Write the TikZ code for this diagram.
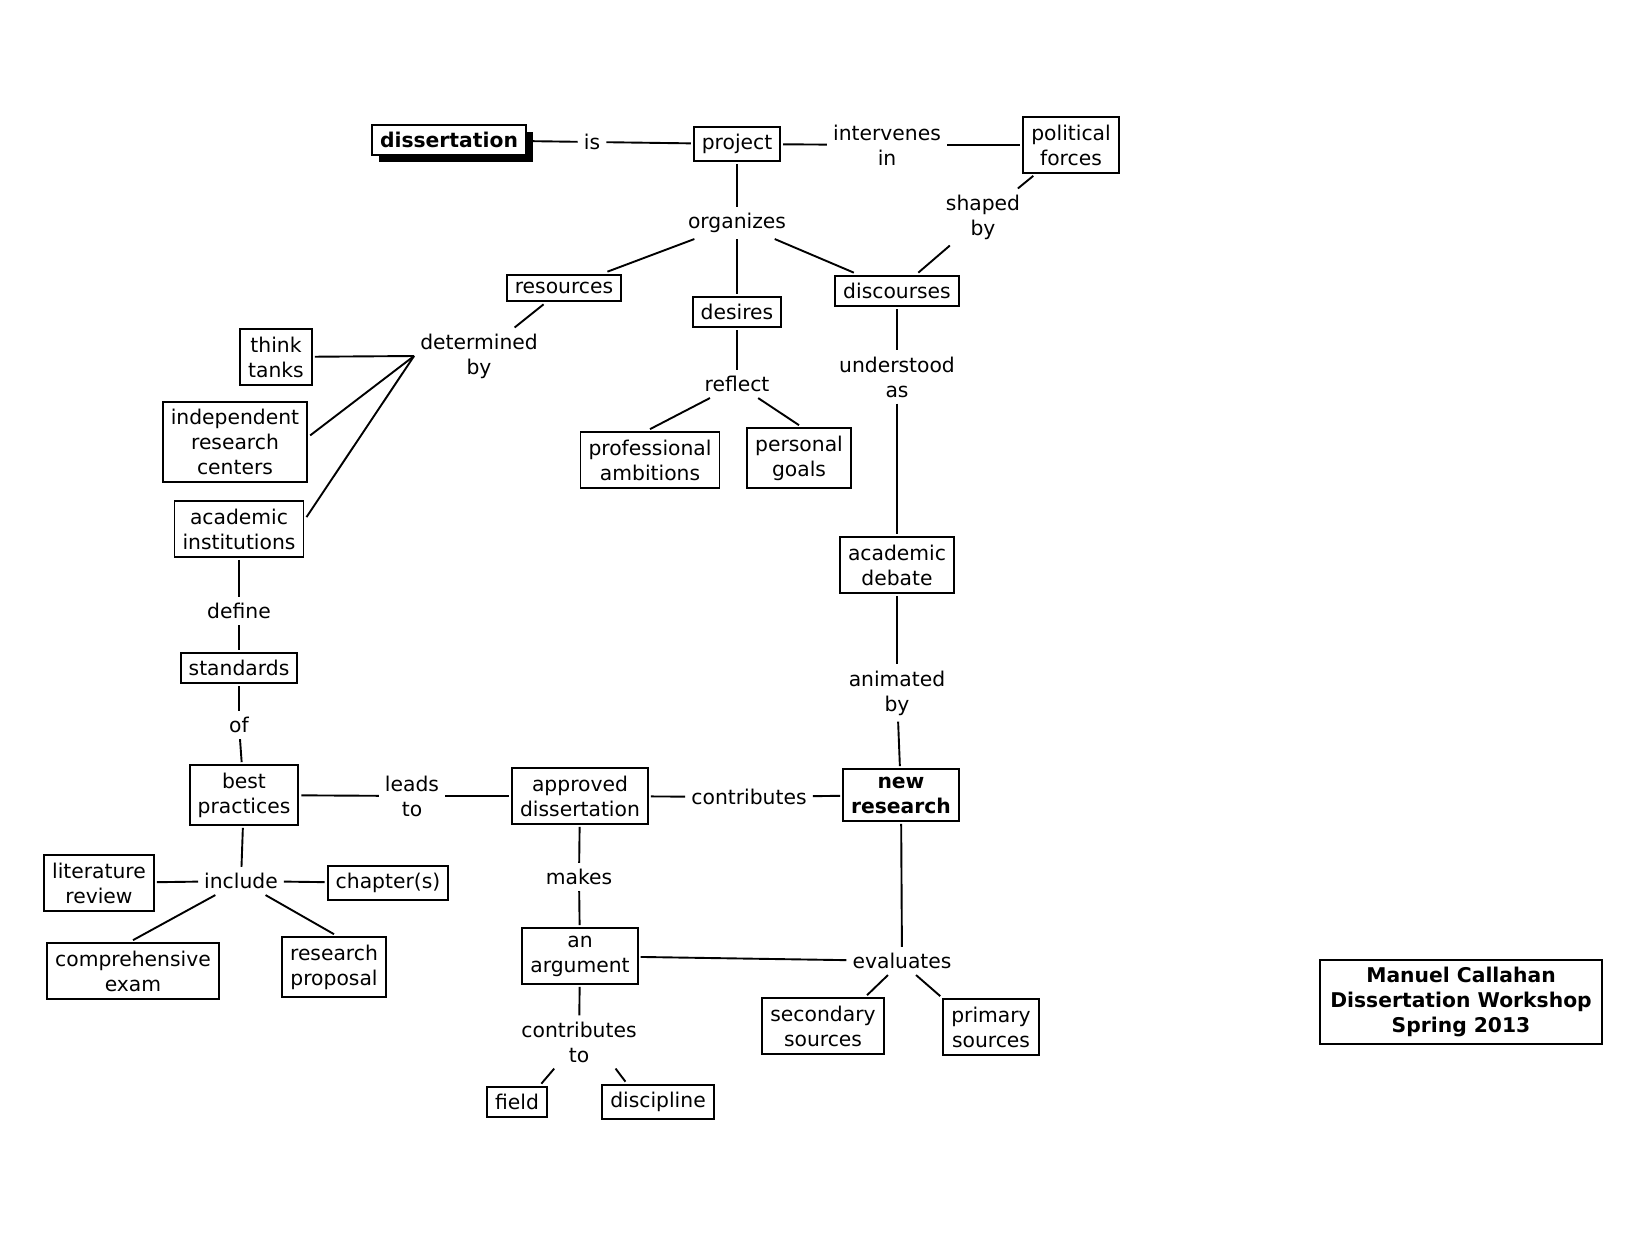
\documentclass[tikz,border=0pt]{standalone}
\usepackage{fontspec}
\setmainfont{DejaVu Sans}
\usetikzlibrary{shadows,calc}
\newcommand\myfs{\fontsize{20.3}{25}\selectfont}
\begin{document}
\begin{tikzpicture}[x=1pt,y=-1pt,
  every node/.style={font=\myfs, align=center},
  box/.style={draw, line width=1.9pt, inner xsep=8pt, inner ysep=7.5pt, outer sep=3pt, fill=white},
  bbox/.style={box, font=\myfs\bfseries},
  lbl/.style={inner sep=6pt},
  ln/.style={line width=1.9pt}]
\useasboundingbox[fill=white] (0,0) rectangle (1648,1240);

% nodes
\node[bbox, drop shadow={shadow xshift=7pt, shadow yshift=-7pt, fill=black, opacity=1}] (diss) at (449,140) {dissertation};
\node[lbl] (is) at (592,142) {is};
\node[box] (proj) at (737,144) {project};
\node[lbl] (interv) at (887,145) {intervenes\\in};
\node[box] (pol) at (1071,145) {political\\forces};
\node[lbl] (org) at (737,223) {organizes};
\node[lbl] (shaped) at (983,217) {shaped\\by};
\node[box] (res) at (564,288) {resources};
\node[box] (des) at (737,312) {desires};
\node[box] (disc) at (897,291) {discourses};
\node[lbl] (det) at (479,356) {determined\\by};
\node[box] (think) at (276,357) {think\\tanks};
\node[box] (indep) at (235,442) {independent\\research\\centers};
\node[box] (acad) at (239,529) {academic\\institutions};
\node[lbl] (refl) at (737,384) {reflect};
\node[box] (prof) at (650,460) {professional\\ambitions};
\node[box] (pers) at (799,458) {personal\\goals};
\node[lbl] (under) at (897,377) {understood\\as};
\node[box] (debate) at (897,565) {academic\\debate};
\node[lbl] (define) at (239,611) {define};
\node[box] (stand) at (239,668) {standards};
\node[lbl] (of) at (239,725) {of};
\node[lbl] (anim) at (897,693) {animated\\by};
\node[box] (best) at (244,795) {best\\practices};
\node[lbl] (leads) at (412,796) {leads\\to};
\node[box] (appr) at (580,796) {approved\\dissertation};
\node[lbl] (contr) at (749,797) {contributes};
\node[bbox] (newres) at (901,795) {new\\research};
\node[lbl] (incl) at (241,881) {include};
\node[box] (lit) at (99,883) {literature\\review};
\node[box] (chap) at (388,883) {chapter(s)};
\node[lbl] (makes) at (579,877) {makes};
\node[box] (comp) at (133,971) {comprehensive\\exam};
\node[box] (prop) at (334,967) {research\\proposal};
\node[box] (arg) at (580,956) {an\\argument};
\node[lbl] (eval) at (902,961) {evaluates};
\node[box] (sec) at (823,1026) {secondary\\sources};
\node[box] (prim) at (991,1027) {primary\\sources};
\node[lbl] (ctto) at (579,1042) {contributes\\to};
\node[box] (field) at (517,1102) {field};
\node[box] (disc2) at (658,1102) {discipline};
\node[bbox, inner xsep=10pt] (manuel) at (1461,1002) {Manuel Callahan\\Dissertation Workshop\\Spring 2013};

% connectors
\draw[ln] (diss) -- (is);
\draw[ln] (is) -- (proj);
\draw[ln] (proj) -- (interv);
\draw[ln] (interv) -- (pol);
\draw[ln] (proj) -- (org);
\draw[ln] (pol) -- (shaped);
\draw[ln] (shaped) -- (disc);
\draw[ln] (org) -- (res);
\draw[ln] (org) -- (des);
\draw[ln] (org) -- (disc);
\draw[ln] (res) -- (det);
\draw[ln] (think) -- (det.west);
\draw[ln] (indep.5) -- (det.west);
\draw[ln] (acad.10) -- (det.west);
\draw[ln] (des) -- (refl);
\draw[ln] (refl) -- (prof.north);
\draw[ln] (refl) -- (pers.north);
\draw[ln] (disc) -- (under);
\draw[ln] (under) -- (debate);
\draw[ln] (acad) -- (define);
\draw[ln] (define) -- (stand);
\draw[ln] (stand) -- (of);
\draw[ln] (of) -- (best);
\draw[ln] (debate) -- (anim);
\draw[ln] (anim) -- (newres);
\draw[ln] (best) -- (leads);
\draw[ln] (leads) -- (appr);
\draw[ln] (appr) -- (contr);
\draw[ln] (contr) -- (newres);
\draw[ln] (best) -- (incl);
\draw[ln] (incl) -- (lit);
\draw[ln] (incl) -- (chap);
\draw[ln] (incl) -- (comp.north);
\draw[ln] (incl) -- (prop.north);
\draw[ln] (appr) -- (makes);
\draw[ln] (makes) -- (arg);
\draw[ln] (newres) -- (eval);
\draw[ln] (arg) -- (eval);
\draw[ln] (eval.225) -- (sec.35);
\draw[ln] (eval.-45) -- (prim.north west);
\draw[ln] (arg) -- (ctto);
\draw[ln] (ctto.227) -- (field.37);
\draw[ln] (ctto.324) -- (disc2.148);
\end{tikzpicture}
\end{document}
